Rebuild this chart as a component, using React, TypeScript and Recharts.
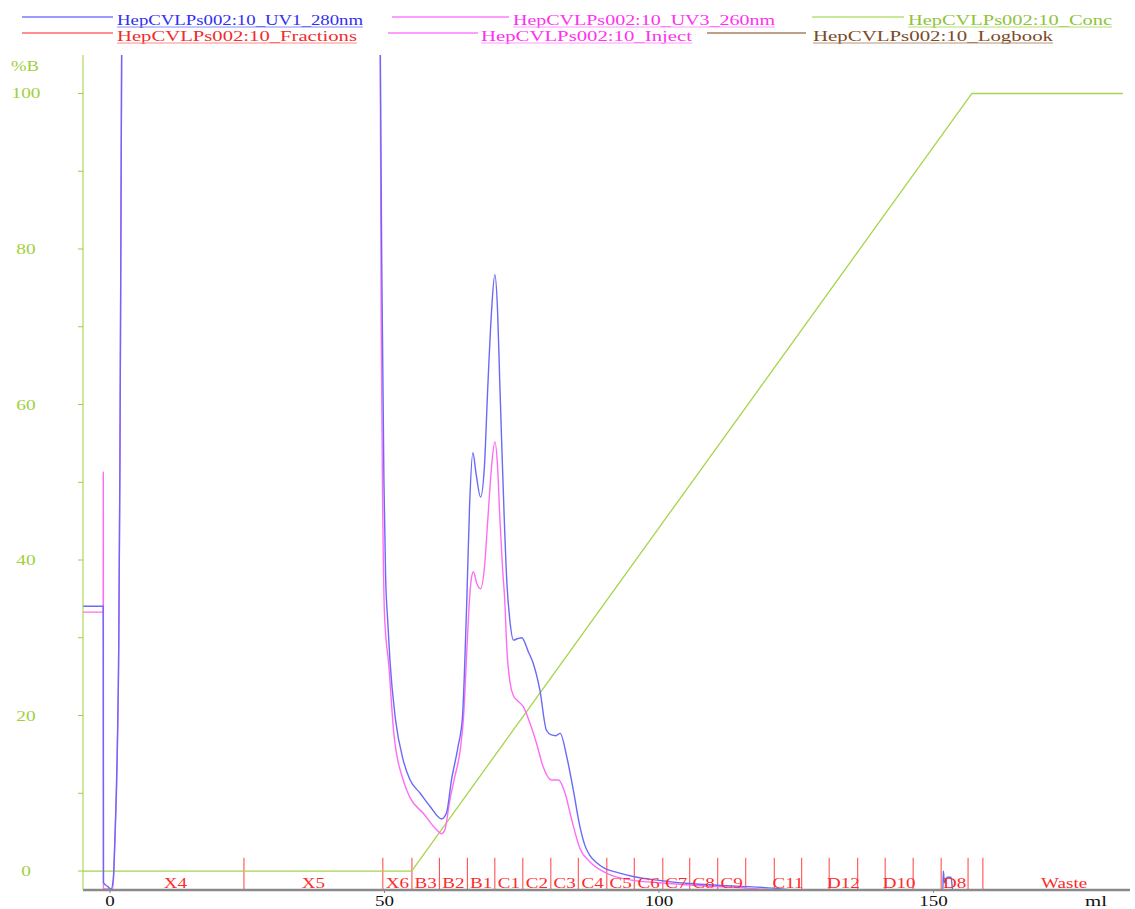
import React from 'react';
import { ComposedChart, Line, Scatter, XAxis, YAxis, ReferenceLine } from 'recharts';

// UV traces drawn on the %B scale (no separate mAU axis shown in the original)
const uv1: [number, number][] = [
  [-4.92, 34.05], [-1.24, 34.05], [-1.2, -1.5], [-0.4, -2.0], [0.2, -2.3], [0.6, -1.0],
  [0.9, 4.4], [1.3, 15], [1.6, 30], [1.8, 52], [2.0, 85], [2.2, 120], [3, 250],
  [48, 250], [49.2, 110], [49.5, 78], [49.9, 50], [50.2, 38], [50.6, 32], [51.0, 27],
  [52.0, 19.5], [53.4, 14.3], [54.6, 11.8], [56.5, 10.0], [58.3, 8.3], [60.4, 6.7],
  [61.3, 7.5], [62.2, 11.7], [63.4, 16], [64.2, 19.8], [64.7, 28.4], [65.0, 35],
  [65.5, 47], [66.1, 53.8], [66.7, 51], [67.5, 48.1], [68.2, 52], [68.8, 62], [69.5, 72],
  [70.1, 76.7], [70.6, 72], [71.0, 62.8], [71.4, 54], [71.8, 45.6], [72.3, 37],
  [72.8, 32.5], [73.5, 29.7], [74.3, 29.9], [75.0, 30.0], [76.2, 28.2], [77.1, 26.7],
  [78.3, 23.3], [79.5, 18.1], [80.4, 17.5], [81.2, 17.4], [82.0, 17.7], [83.2, 14.7],
  [84.4, 10.4], [85.6, 5.7], [86.5, 3.3], [87.4, 2.0], [88.6, 1.1], [90.2, 0.3],
  [92.5, -0.2], [95.3, -0.7], [100, -1.2], [105.6, -1.6], [110, -1.8], [116, -2.0],
  [120.8, -2.2], [125, -2.44], [151.7, -2.44], [151.8, 0.0], [152.0, -1.5], [152.5, -0.8],
  [153.2, -0.8], [153.5, -2.44], [186, -2.44],
];

const uv3: [number, number][] = [
  [-4.92, 33.3], [-1.25, 33.3], [-1.22, 51.3], [-1.19, -2.3], [0.5, -2.3], [0.7, 0],
  [0.9, 4.0], [1.3, 14], [1.6, 29], [1.8, 51], [2.0, 84], [2.2, 118], [3, 250],
  [48, 250], [49.2, 110], [49.4, 70], [49.7, 45], [50.0, 33], [50.8, 26.3], [51.7, 17.7],
  [53.4, 11.7], [54.6, 9.5], [57.1, 7.4], [59.5, 5.3], [60.4, 4.8], [61.0, 5.3],
  [61.9, 9.1], [62.8, 12.1], [63.8, 15.6], [64.4, 19.8], [65.0, 28.4], [65.4, 34],
  [65.8, 37.5], [66.2, 38.5], [66.8, 37], [67.5, 36.3], [68.2, 39], [68.8, 45],
  [69.5, 52], [70.1, 55.2], [70.6, 52], [71.0, 45.6], [71.5, 39], [71.9, 34.9],
  [72.3, 28.4], [72.9, 24.1], [73.5, 22.5], [74.1, 22.0], [75.3, 21.1], [76.5, 19.0],
  [77.7, 16.4], [78.9, 13.4], [80.4, 11.7], [81.7, 11.7], [82.9, 10.0], [84.1, 6.6],
  [85.6, 2.9], [87.4, 1.2], [90.5, -0.3], [95.3, -1.2], [100, -1.5], [105.6, -1.8],
  [116, -2.2], [122, -2.44], [186, -2.44],
];

const conc: [number, number][] = [[-4.92, 0], [54.95, 0], [157.0, 100], [184.5, 100]];

const fractionBounds = [
  -0.6, 24.4, 49.7, 55, 60, 65.1, 70.1, 75.2, 80.3, 85.3, 90.5, 95.5, 100.7, 105.6,
  110.7, 115.8, 121, 126, 131, 136.2, 141.2, 146.3, 151.4, 156.3, 159, 188.6,
];
const fractionLabels = [
  'X4', 'X5', 'X6', 'B3', 'B2', 'B1', 'C1', 'C2', 'C3', 'C4', 'C5', 'C6', 'C7', 'C8',
  'C9', '', 'C11', '', 'D12', '', 'D10', '', 'D8', '', 'Waste',
];

const xTicks = [0, 50, 100, 150];
const yTicks = [0, 10, 20, 30, 40, 50, 60, 70, 80, 90, 100];

const legendNames = [
  'HepCVLPs002:10_UV1_280nm', 'HepCVLPs002:10_UV3_260nm', 'HepCVLPs002:10_Conc',
  'HepCVLPs002:10_Fractions', 'HepCVLPs002:10_Inject', 'HepCVLPs002:10_Logbook',
];

const toRows = (pts: [number, number][]) => pts.map(([x, y]) => ({ x, y }));

const GREEN = '#9fd03c';
const SERIF = '"Liberation Serif", "Times New Roman", serif';

const legendLayout = [
  { line: [22, 113], tx: 117, tw: 246, y: 17, text: '#2f2ff0', under: '#8a8aff', stroke: '#7a7aff' },
  { line: [392, 509], tx: 513, tw: 262, y: 17, text: '#ff30f0', under: '#ff9cff', stroke: '#ff7cff' },
  { line: [812, 904], tx: 908, tw: 204, y: 17, text: '#8cc43a', under: '#b6e070', stroke: '#b8e07a' },
  { line: [22, 113], tx: 117, tw: 240, y: 33, text: '#f02c2c', under: '#ff8a8a', stroke: '#ff6a6a' },
  { line: [388, 478], tx: 481, tw: 211, y: 33, text: '#ff30f0', under: '#ff9cff', stroke: '#ff7cff' },
  { line: [707, 806], tx: 813, tw: 240, y: 33, text: '#7c4a26', under: '#b89474', stroke: '#a88060' },
];

const YTick = (props: any) => {
  const { y, payload } = props;
  if (payload.value % 20 !== 0) return <g />;
  const s = String(payload.value);
  return (
    <text x={26} y={y + 5} textAnchor="middle" fill={GREEN} fontFamily={SERIF} fontSize={15}
      textLength={s.length * 9.7} lengthAdjust="spacingAndGlyphs">{s}</text>
  );
};

const XTick = (props: any) => {
  const { x, payload } = props;
  const s = String(payload.value);
  return (
    <text x={x} y={906} textAnchor="middle" fill="#111" fontFamily={SERIF} fontSize={15}
      textLength={s.length * 9.5} lengthAdjust="spacingAndGlyphs">{s}</text>
  );
};

const FractionLabel = (props: any) => {
  const { cx, cy, payload } = props;
  if (!payload.label) return <g />;
  return (
    <g transform={`translate(${cx},${cy}) scale(1.27,1)`}>
      <text x={0} y={5} textAnchor="middle" fill="#ff2a2a" fontFamily={SERIF} fontSize={15}>
        {payload.label}
      </text>
    </g>
  );
};

export default function App() {
  const labelRows = fractionLabels.map((label, i) => ({
    x: (fractionBounds[i] + fractionBounds[i + 1]) / 2,
    y: -1.5,
    label,
  }));
  const boundaryLines = fractionBounds.slice(1, -1);

  return (
    <div style={{ position: 'absolute', left: 0, top: 0, width: 1135, height: 909, background: '#fff' }}>
      <ComposedChart width={1135} height={909} margin={{ top: 55, right: 5, left: 0, bottom: 0 }}>
        <XAxis type="number" dataKey="x" domain={[-4.92, 185.8]} allowDataOverflow ticks={xTicks}
          height={19} axisLine={{ stroke: '#8a8a8a', strokeWidth: 2.5 }} tickLine={{ stroke: '#8a8a8a' }}
          tickSize={3} tick={<XTick />} />
        <YAxis type="number" dataKey="y" domain={[-2.44, 104.95]} allowDataOverflow ticks={yTicks}
          width={83} axisLine={{ stroke: GREEN }} tickLine={{ stroke: GREEN }} tickSize={5}
          tick={<YTick />} interval={0} />
        {boundaryLines.map((b) => (
          <ReferenceLine key={b} segment={[{ x: b, y: -2.44 }, { x: b, y: 1.7 }]} stroke="#ff4040" strokeWidth={1} />
        ))}
        <Line data={toRows(conc)} dataKey="y" type="linear" stroke="#a6d44c" strokeWidth={1.3}
          dot={false} isAnimationActive={false} />
        <Line data={toRows(uv3)} dataKey="y" type="monotone" stroke="#ff6cf4" strokeWidth={1.4}
          dot={false} isAnimationActive={false} />
        <Line data={toRows(uv1)} dataKey="y" type="monotone" stroke="#6a6af6" strokeWidth={1.4}
          dot={false} isAnimationActive={false} />
        <Scatter data={labelRows} dataKey="y" shape={<FractionLabel />} isAnimationActive={false} />
      </ComposedChart>
      <svg width={1135} height={909} style={{ position: 'absolute', left: 0, top: 0, pointerEvents: 'none' }}>
        {legendLayout.map((l, i) => (
          <g key={legendNames[i]}>
            <line x1={l.line[0]} x2={l.line[1]} y1={l.y} y2={l.y} stroke={l.stroke} strokeWidth={1.3} />
            <text x={l.tx} y={l.y + 8} fill={l.text} fontFamily={SERIF} fontSize={15}
              textLength={l.tw} lengthAdjust="spacingAndGlyphs">{legendNames[i]}</text>
            <line x1={l.tx} x2={l.tx + l.tw} y1={l.y + 10} y2={l.y + 10} stroke={l.under} strokeWidth={1.2} />
          </g>
        ))}
        <text x={25} y={71} textAnchor="middle" fill={GREEN} fontFamily={SERIF} fontSize={15}
          textLength={28} lengthAdjust="spacingAndGlyphs">%B</text>
        <text x={1096} y={906} textAnchor="middle" fill="#111" fontFamily={SERIF} fontSize={15}
          textLength={22} lengthAdjust="spacingAndGlyphs">ml</text>
      </svg>
    </div>
  );
}
